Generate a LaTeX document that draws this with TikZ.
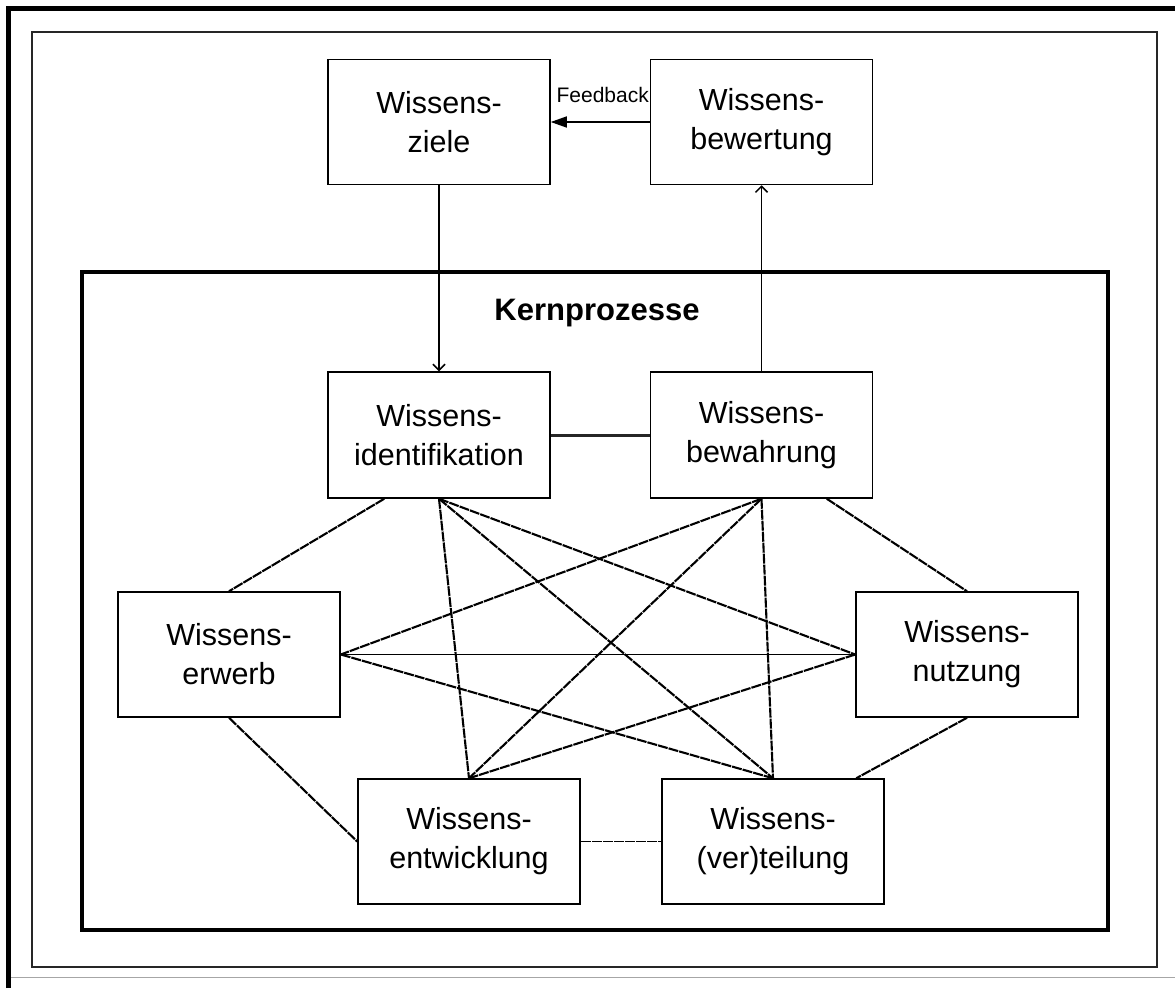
\documentclass[tikz,border=0pt]{standalone}
\usepackage{fontspec}
\setmainfont{Liberation Sans}
\usetikzlibrary{arrows.meta}
\newcommand{\boxfont}{\fontsize{30.5}{39}\selectfont}
\tikzset{
  procbox/.style={draw, line width=1.5pt, minimum width=222pt, minimum height=125pt,
    inner sep=0pt, align=center, font=\boxfont},
  link/.style={line width=2.1pt, dash pattern=on 10pt off 1pt},
  thinlink/.style={line width=1.4pt},
  flow/.style={line width=1.5pt},
}
\begin{document}
\begin{tikzpicture}[x=1pt,y=-1pt]
\useasboundingbox (0,0) rectangle (1175,988);
% frames
\draw[line width=5pt] (8.5,988) -- (8.5,8.5) -- (1175,8.5);
\draw[black!35, line width=1pt] (11,977) -- (1175,977);
\draw[line width=1.5pt, black!85] (32,32) rectangle (1157,967);
\draw[line width=3.2pt] (82,272) rectangle (1108,930);
% nodes
\node[procbox] (ziele) at (439,122) {Wissens-\\ziele};
\node[procbox] (bewert) at (761.5,122) {Wissens-\\bewertung};
\node[procbox, minimum height=126pt] (ident) at (439,435) {Wissens-\\identifikation};
\node[procbox, minimum height=126pt] (bewahr) at (761.5,435) {Wissens-\\bewahrung};
\node[procbox] (erwerb) at (229,654.5) {Wissens-\\erwerb};
\node[procbox] (nutz) at (967,654.5) {Wissens-\\nutzung};
\node[procbox] (entw) at (469,841.5) {Wissens-\\entwicklung};
\node[procbox] (vert) at (773,841.5) {Wissens-\\(ver)teilung};
\node[font=\fontsize{31}{36}\selectfont\bfseries, anchor=base] (kern) at (597,320) {Kernprozesse};
\node[font=\fontsize{21}{25}\selectfont, anchor=base east, inner sep=0pt] (fb) at (649,102) {Feedback};
% arrows
\draw[flow, -{Triangle[length=16pt,width=11pt]}] (bewert.west) -- (ziele.east);
\draw[flow, -{Straight Barb[length=6pt,width=12pt]}] (ziele.south) -- (ident.north);
\draw[flow, -{Straight Barb[length=6pt,width=12pt]}] (bewahr.north) -- (bewert.south);
% links
\draw[line width=3pt, black!85] (ident.east) -- (bewahr.west);
\draw[link] ([xshift=57pt]ident.south west) -- (erwerb.north);
\draw[link] ([xshift=177pt]bewahr.south west) -- (nutz.north);
\draw[link] (erwerb.south) -- (entw.west);
\draw[link] (nutz.south) -- ([xshift=195pt]vert.north west);
\draw[link, line width=1.8pt] (entw.east) -- (vert.west);
\draw[link] (ident.south) -- (entw.north);
\draw[link] (ident.south) -- (vert.north);
\draw[link] (ident.south) -- (nutz.west);
\draw[link] (bewahr.south) -- (erwerb.east);
\draw[link] (bewahr.south) -- (entw.north);
\draw[link] (bewahr.south) -- (vert.north);
\draw[thinlink] (erwerb.east) -- (nutz.west);
\draw[link] (erwerb.east) -- (vert.north);
\draw[link] (nutz.west) -- (entw.north);
\end{tikzpicture}
\end{document}
